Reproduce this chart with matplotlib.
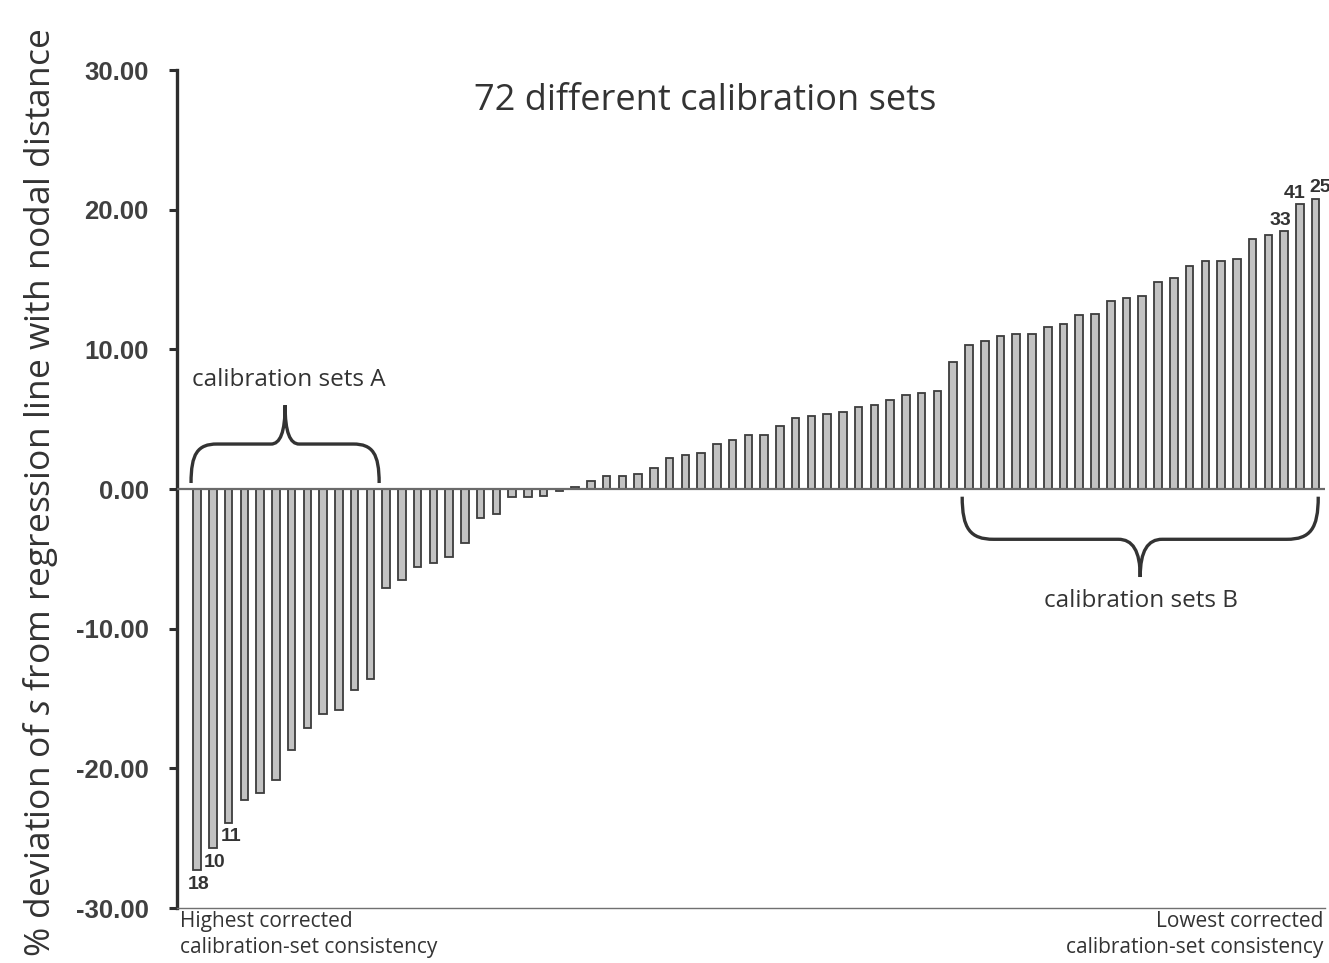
import numpy as np
import matplotlib
matplotlib.use("Agg")
import matplotlib.pyplot as plt
from matplotlib.path import Path
from matplotlib.patches import PathPatch

plt.rcParams["font.family"] = ["Open Sans", "DejaVu Sans"]
plt.rcParams["mathtext.fontset"] = "custom"
plt.rcParams["mathtext.it"] = "Open Sans:italic"
plt.rcParams["mathtext.rm"] = "Open Sans"

# % deviation for each of the 72 calibration sets, sorted
deviation = [
    -27.3, -25.7, -23.9, -22.3, -21.8, -20.8, -18.7, -17.1, -16.1, -15.8,
    -14.4, -13.6, -7.1, -6.5, -5.6, -5.3, -4.9, -3.9, -2.1, -1.8,
    -0.6, -0.6, -0.5, -0.15, 0.15, 0.6, 0.9, 0.9, 1.1, 1.5,
    2.25, 2.4, 2.6, 3.25, 3.5, 3.85, 3.85, 4.5, 5.1, 5.25,
    5.4, 5.5, 5.9, 6.0, 6.35, 6.75, 6.85, 7.0, 9.1, 10.3,
    10.6, 10.95, 11.1, 11.1, 11.6, 11.85, 12.45, 12.55, 13.45, 13.7,
    13.8, 14.8, 15.1, 15.95, 16.3, 16.3, 16.45, 17.9, 18.2, 18.45,
    20.4, 20.8,
]
# set ids printed next to the extreme bars: (bar position, label)
low_ids = [(0, "18"), (1, "10"), (2, "11")]
high_ids = [(69, "33"), (70, "41"), (71, "25")]
yticks = [-30, -20, -10, 0, 10, 20, 30]

TXT = "#333333"

fig = plt.figure(figsize=(13.29, 9.63), dpi=100)
ax = fig.add_axes([0.1332, 0.0571, 0.8638, 0.8702])

x = np.arange(len(deviation))
ax.bar(x, deviation, width=0.48, color="#c2c2c2", edgecolor="#3c3c3c", linewidth=1.3, zorder=3)
ax.axhline(0, color="#6a6a6a", lw=1.6, zorder=4)

ax.set_xlim(-1.27, 71.6)
ax.set_ylim(-30, 30)
ax.set_yticks(yticks)
ax.set_yticklabels([f"{v:.2f}" for v in yticks], family="Liberation Sans",
                   fontsize=18.5, fontweight="bold", color="#404040")
ax.set_xticks([])
for s in ("top", "right"):
    ax.spines[s].set_visible(False)
ax.spines["left"].set_linewidth(2.4)
ax.spines["left"].set_color("#2e2e2e")
ax.spines["bottom"].set_linewidth(1.0)
ax.spines["bottom"].set_color("#707070")
ax.tick_params(axis="y", direction="out", length=5.5, width=2.2, color="#2e2e2e", pad=15)

ax.set_ylabel("% deviation of $s$ from regression line with nodal distance",
              fontsize=25.5, color=TXT)
ax.yaxis.set_label_coords(-0.102, 0.495)

ax.text(0.46, 0.985, "72 different calibration sets", transform=ax.transAxes,
        ha="center", va="top", fontsize=26, color=TXT)

# set ids on the extreme bars
for i, lab in low_ids:
    ax.annotate(lab, (x[i], deviation[i]), xytext=(1.5, -4), textcoords="offset points",
                ha="center", va="top", fontsize=14, fontweight="bold",
                family="Liberation Sans", color=TXT)
hi_shift = {69: -2.5, 70: -3.5, 71: 3}
for i, lab in high_ids:
    ax.annotate(lab, (x[i], deviation[i]), xytext=(hi_shift[i], 1.5), textcoords="offset points",
                ha="center", va="bottom", fontsize=14, fontweight="bold",
                family="Liberation Sans", color=TXT)


def brace(ax, x0, x1, y_end, y_bar, y_tip, r_end, r_tip):
    xm = (x0 + x1) / 2
    d = y_bar - y_end
    t = y_tip - y_bar
    verts = [
        (x0, y_end),
        (x0, y_end + 0.75 * d), (x0 + 0.25 * r_end, y_bar), (x0 + r_end, y_bar),
        (xm - r_tip, y_bar),
        (xm - 0.35 * r_tip, y_bar), (xm, y_bar + 0.3 * t), (xm, y_tip),
        (xm, y_bar + 0.3 * t), (xm + 0.35 * r_tip, y_bar), (xm + r_tip, y_bar),
        (x1 - r_end, y_bar),
        (x1 - 0.25 * r_end, y_bar), (x1, y_end + 0.75 * d), (x1, y_end),
    ]
    codes = [Path.MOVETO,
             Path.CURVE4, Path.CURVE4, Path.CURVE4,
             Path.LINETO,
             Path.CURVE4, Path.CURVE4, Path.CURVE4,
             Path.CURVE4, Path.CURVE4, Path.CURVE4,
             Path.LINETO,
             Path.CURVE4, Path.CURVE4, Path.CURVE4]
    ax.add_patch(PathPatch(Path(verts, codes), fill=False, lw=2.4,
                           edgecolor="#333333", capstyle="butt", zorder=5))


brace(ax, -0.38, 11.56, 0.43, 3.22, 6.0, 1.65, 0.9)
brace(ax, 48.57, 71.17, -0.55, -3.6, -6.3, 2.0, 1.4)
ax.text(5.8, 7.8, "calibration sets A", ha="center", va="center", fontsize=17.5, color=TXT)
ax.text(59.9, -8.0, "calibration sets B", ha="center", va="center", fontsize=17.5, color=TXT)

ax.text(0.003, -0.004, "Highest corrected\ncalibration-set consistency", transform=ax.transAxes,
        ha="left", va="top", fontsize=15, color=TXT, linespacing=1.3)
ax.text(0.999, -0.004, "Lowest corrected\ncalibration-set consistency", transform=ax.transAxes,
        ha="right", va="top", fontsize=15, color=TXT, linespacing=1.3)

fig.savefig("out.png", dpi=100)
